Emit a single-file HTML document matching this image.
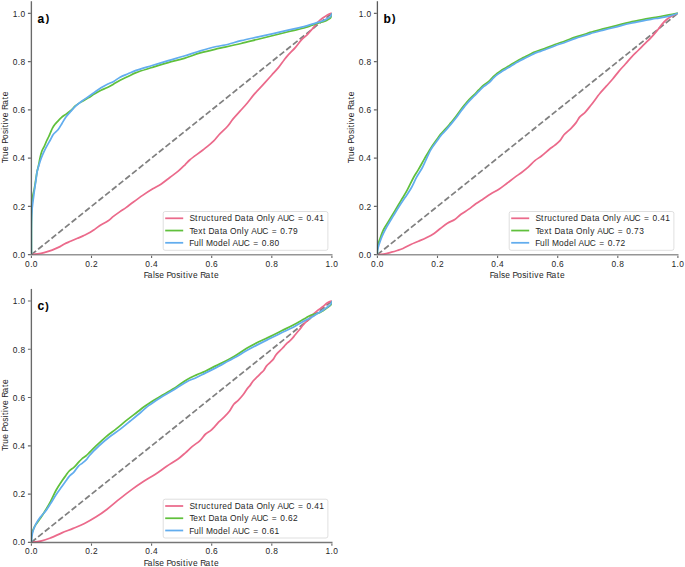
<!DOCTYPE html>
<html><head><meta charset="utf-8"><title>ROC curves</title>
<style>
html,body{margin:0;padding:0;background:#fff;overflow:hidden;}
svg{display:block;}
text{font-family:"Liberation Sans",sans-serif;fill:#262626;}
.bold{font-weight:bold;fill:#000;stroke:#000;stroke-width:0.1px;}
</style></head>
<body>
<svg width="685" height="567" viewBox="0 0 685 567">
<rect width="685" height="567" fill="#fff"/>
<clipPath id="clipa"><rect x="31.4" y="1.23" width="300.5" height="253.37"/></clipPath>
<g clip-path="url(#clipa)">
<path d="M31.4 254.6 L331.9 13.3" stroke="#808080" stroke-width="1.75" stroke-dasharray="6.0 2.6" fill="none"/>
<path d="M31.4 254.6 C31.4 254.6 35.52 254.23 37.6 253.9 C39.75 253.56 41.84 253.18 44.1 252.6 C46.64 251.95 49.47 251.09 52.1 250.1 C54.77 249.09 57.78 247.74 60 246.6 C61.71 245.72 62.79 244.83 64.4 244 C66.24 243.05 68.39 242.22 70.5 241.3 C72.75 240.32 75.25 239.28 77.5 238.3 C79.61 237.38 81.57 236.54 83.6 235.6 C85.67 234.64 87.86 233.71 89.8 232.6 C91.65 231.54 93.2 230.35 95 229.1 C96.98 227.73 99.03 226.07 101.2 224.7 C103.43 223.3 106.1 222.25 108.2 220.8 C110.13 219.46 111.53 217.86 113.4 216.4 C115.44 214.8 117.84 213.11 120 211.6 C122.03 210.18 123.94 209.07 126 207.6 C128.29 205.97 130.52 204.1 133.1 202.2 C136.11 199.98 139.68 197.36 143 195.1 C146.25 192.89 149.63 190.73 152.8 188.8 C155.71 187.03 158.52 185.74 161.3 183.9 C164.19 181.99 166.97 179.62 169.8 177.5 C172.61 175.39 175.6 173.38 178.2 171.2 C180.65 169.14 182.96 166.8 185 164.8 C186.73 163.1 187.65 161.8 189.7 160 C192.91 157.17 198.78 153.27 202.9 150 C206.66 147.02 210.67 143.99 213.5 141.2 C215.68 139.05 216.76 137.2 218.8 135 C221.32 132.28 225.12 129.06 227.6 126.2 C229.69 123.78 230.94 121.48 232.9 119.1 C235.04 116.49 237.64 113.85 240 111.2 C242.37 108.55 244.78 105.96 247.1 103.2 C249.48 100.37 251.46 97.48 254.1 94.4 C257.21 90.77 261.53 86.38 264.7 82.9 C267.31 80.03 269.45 77.64 271.8 75 C274.15 72.37 276.68 69.71 278.8 67.1 C280.74 64.71 282.5 62.07 284.1 60 C285.37 58.35 286.15 57.27 287.6 55.6 C289.7 53.19 293.26 49.9 295.7 47.1 C297.91 44.57 299.64 41.77 301.7 39.6 C303.52 37.68 305.52 36.37 307.3 34.6 C309.09 32.81 310.78 30.81 312.4 28.9 C313.97 27.05 315.46 24.9 316.9 23.3 C318.08 21.99 319.08 20.94 320.3 19.9 C321.54 18.84 322.96 17.91 324.3 17 C325.6 16.12 326.88 15.14 328.2 14.5 C329.42 13.91 331.9 13.2 331.9 13.2" stroke="#eb6a8b" stroke-width="1.75" fill="none" stroke-linejoin="round" stroke-linecap="butt"/>
<path d="M31.4 254.6 C31.4 254.6 31.29 223.18 31.5 215 C31.6 211.32 31.74 209.58 31.9 207 C32.05 204.59 32.2 202.14 32.4 200 C32.57 198.19 32.71 196.74 33 195 C33.32 193.08 33.87 191.26 34.3 189 C34.85 186.1 35.39 182.15 35.9 179 C36.35 176.18 36.68 173.57 37.2 171 C37.69 168.58 38.45 166.14 38.9 164 C39.28 162.2 39.39 160.85 39.8 159 C40.32 156.64 41.03 153.27 41.9 151 C42.59 149.18 43.52 147.96 44.3 146.3 C45.16 144.48 45.99 142.24 46.8 140.5 C47.48 139.03 48.18 137.84 48.8 136.5 C49.41 135.18 49.89 133.88 50.5 132.5 C51.15 131.02 51.81 129.31 52.6 127.9 C53.33 126.6 54.16 125.39 55 124.3 C55.77 123.31 56.49 122.58 57.4 121.6 C58.53 120.39 59.88 118.83 61.3 117.6 C62.77 116.33 64.5 115.28 66.1 114.1 C67.7 112.91 69.36 111.85 70.9 110.5 C72.53 109.07 73.83 107.17 75.6 105.7 C77.5 104.12 79.85 102.73 82 101.4 C84.08 100.11 86.2 99.05 88.3 97.8 C90.44 96.52 92.56 95.06 94.7 93.8 C96.79 92.57 98.87 91.36 101 90.3 C103.1 89.26 105.3 88.54 107.4 87.5 C109.53 86.44 111.6 85.19 113.7 84 C115.83 82.79 117.83 81.5 120.1 80.3 C122.57 78.99 125.35 77.78 128 76.5 C130.68 75.21 132.89 73.88 136.1 72.6 C140.48 70.86 146.75 69.17 152.1 67.5 C157.45 65.83 162.83 64.14 168.2 62.6 C173.53 61.07 178.88 59.9 184.2 58.3 C189.58 56.68 194.9 54.47 200.3 52.9 C205.64 51.35 211.86 49.94 216.4 48.9 C219.7 48.14 221.69 47.82 225 47.1 C229.54 46.12 235.75 44.77 241.1 43.5 C246.45 42.23 251.76 40.83 257.1 39.5 C262.46 38.16 267.84 36.84 273.2 35.5 C278.54 34.17 283.83 32.83 289.2 31.5 C294.63 30.16 301.57 28.7 305.6 27.5 C308.01 26.78 309.41 26.17 311.3 25.5 C313.18 24.84 315.02 24.12 316.9 23.5 C318.78 22.88 320.82 22.4 322.6 21.8 C324.2 21.26 325.74 20.79 327.1 20.1 C328.35 19.47 329.74 18.8 330.5 17.9 C331.13 17.15 331.37 16.13 331.6 15.3 C331.8 14.58 331.9 13.2 331.9 13.2" stroke="#60c03c" stroke-width="1.75" fill="none" stroke-linejoin="round" stroke-linecap="butt"/>
<path d="M31.4 254.6 C31.4 254.6 31.32 230.21 31.5 222 C31.61 217.02 31.73 213.46 32 210 C32.21 207.35 32.52 205.33 32.8 203 C33.08 200.67 33.41 198.27 33.7 196 C33.98 193.84 34.17 192.06 34.5 189.7 C34.93 186.64 35.64 182.41 36.1 179.2 C36.49 176.49 36.59 174.17 37.1 171.7 C37.62 169.21 38.47 166.66 39.2 164.3 C39.88 162.11 40.51 160.09 41.3 158 C42.11 155.86 43.02 153.71 44 151.6 C44.99 149.47 46.11 147.29 47.2 145.3 C48.21 143.44 49.28 141.81 50.3 140 C51.35 138.14 52.1 136.03 53.4 134.3 C54.73 132.53 56.77 131.3 58.2 129.5 C59.69 127.62 60.79 125.31 62.1 123.2 C63.42 121.07 64.69 118.72 66.1 116.8 C67.37 115.06 68.64 113.74 70.1 112.1 C71.77 110.23 73.63 108.04 75.6 106.2 C77.59 104.34 79.84 102.61 82 101 C84.08 99.45 86.2 98.16 88.3 96.7 C90.43 95.22 92.57 93.69 94.7 92.2 C96.81 90.72 98.85 89.13 101 87.8 C103.09 86.5 105.26 85.38 107.4 84.3 C109.49 83.25 111.63 82.55 113.7 81.4 C115.87 80.2 117.8 78.44 120.1 77.2 C122.54 75.89 125.35 74.93 128 73.8 C130.68 72.66 132.91 71.55 136.1 70.4 C140.5 68.81 146.76 67.13 152.1 65.5 C157.46 63.86 162.84 62.19 168.2 60.6 C173.54 59.02 178.87 57.63 184.2 56 C189.57 54.36 194.91 52.39 200.3 50.8 C205.65 49.22 211.85 47.5 216.4 46.5 C219.69 45.77 221.71 45.73 225 45 C229.55 44 235.73 42.02 241.1 40.7 C246.43 39.39 251.76 38.28 257.1 37.1 C262.46 35.92 267.85 34.8 273.2 33.6 C278.55 32.4 283.83 31.14 289.2 29.9 C294.63 28.64 301.56 27.17 305.6 26.1 C308 25.46 309.41 24.97 311.3 24.4 C313.18 23.84 315.02 23.26 316.9 22.7 C318.79 22.13 320.84 21.7 322.6 21 C324.22 20.35 325.72 19.49 327.1 18.7 C328.33 17.99 329.7 17.46 330.5 16.5 C331.26 15.6 331.9 13.2 331.9 13.2" stroke="#62adee" stroke-width="1.75" fill="none" stroke-linejoin="round" stroke-linecap="butt"/>
</g>
<g>
<path d="M31.38 1.23 V253.9" stroke="#262626" stroke-opacity="0.69" stroke-width="1.35" fill="none"/>
<path d="M30.7 254.75 H332.5" stroke="#262626" stroke-opacity="0.49" stroke-width="1.7" fill="none"/>
<path d="M27.9 254.65 H30.75 M31.4 255.7 V258 M27.9 206.39 H30.75 M91.5 255.7 V258 M27.9 158.13 H30.75 M151.6 255.7 V258 M27.9 109.87 H30.75 M211.7 255.7 V258 M27.9 61.61 H30.75 M271.8 255.7 V258 M27.9 13.35 H30.75 M331.9 255.7 V258" stroke="#262626" stroke-opacity="0.7" stroke-width="1.1" fill="none"/>
<text x="12.76 17.76 20.44" y="258" font-size="8.4">0.0</text>
<text x="25.12 30.13 32.8" y="267" font-size="8.4">0.0</text>
<text x="13.03 18.03 20.6" y="209.74" font-size="8.4">0.2</text>
<text x="85.36 90.37 92.93" y="267" font-size="8.4">0.2</text>
<text x="12.67 17.68 20.35" y="161.48" font-size="8.4">0.4</text>
<text x="145.28 150.29 152.96" y="267" font-size="8.4">0.4</text>
<text x="12.73 17.74 20.41" y="113.22" font-size="8.4">0.6</text>
<text x="205.41 210.42 213.09" y="267" font-size="8.4">0.6</text>
<text x="12.77 17.78 20.45" y="64.96" font-size="8.4">0.8</text>
<text x="265.53 270.54 273.21" y="267" font-size="8.4">0.8</text>
<text x="12.71 17.76 20.44" y="16.7" font-size="8.4">1.0</text>
<text x="325.4 330.45 333.13" y="267" font-size="8.4">1.0</text>
<text x="143.65 147.63 152.92 155.03 159.32 164.23 166.44 171.37 176.22 180.55 182.99 185.95 188.28 192.91 197.82 200.16 205.51 211.01 213.93" y="278" font-size="8.4">False Positive Rate</text>
<g transform="translate(7.5 127.92) rotate(-90)"><text x="-35.43 -31.18 -28.09 -23.03 -18.12 -15.91 -10.97 -6.12 -1.79 0.64 3.6 5.93 10.57 15.47 17.81 23.17 28.66 31.58" y="0" font-size="8.4">True Positive Rate</text></g>
<text class="bold" x="37.6" y="23" font-size="12">a</text>
<text class="bold" x="45.8" y="22" font-size="10.4">)</text>
<rect x="163.2" y="211.5" width="164.7" height="38.8" rx="2" ry="2" fill="#fff" fill-opacity="0.8" stroke="#cccccc" stroke-opacity="0.8" stroke-width="0.8"/>
<path d="M165.2 218.3 H183.2" stroke="#eb6a8b" stroke-width="1.75"/>
<text x="189.4 195.1 198.28 201.37 206.3 211.09 214.06 219.37 222.25 227.22 232.27 234.8 240.74 246.24 248.83 254.05 256.4 263.06 268.12 270.45 275.05 277.44 282.91 288.62 294.63 297.99 303.93 306.6 311.61 314.28 319.36" y="221.4" font-size="8.4">Structured Data Only AUC = 0.41</text>
<path d="M165.2 230.55 H183.2" stroke="#60c03c" stroke-width="1.75"/>
<text x="189.5 193.31 198.22 203.11 205.99 208.52 214.47 219.96 222.56 227.77 230.12 236.79 241.84 244.17 248.77 251.17 256.64 262.35 268.35 271.72 277.65 280.32 285.33 287.99 293.1" y="233.65" font-size="8.4">Text Data Only AUC = 0.79</text>
<path d="M165.2 242.8 H183.2" stroke="#62adee" stroke-width="1.75"/>
<text x="189.33 193.99 199.08 201.31 203.48 205.9 213 217.96 223.06 228.04 230.21 232.6 238.07 243.78 249.78 253.15 259.09 261.76 266.77 269.44 274.56" y="245.9" font-size="8.4">Full Model AUC = 0.80</text>
</g>
<clipPath id="clipb"><rect x="377.4" y="1.23" width="300.5" height="253.37"/></clipPath>
<g clip-path="url(#clipb)">
<path d="M377.4 254.6 L677.9 13.3" stroke="#808080" stroke-width="1.75" stroke-dasharray="6.0 2.6" fill="none"/>
<path d="M377.4 254.6 C377.4 254.6 381.43 254.45 383.6 254.1 C386.07 253.7 389 252.84 391.4 252.2 C393.48 251.64 395.27 251.11 397.2 250.5 C399.14 249.88 400.96 249.37 403 248.5 C405.44 247.46 408.19 245.73 410.8 244.5 C413.35 243.3 415.93 242.33 418.5 241.2 C421.1 240.06 423.73 238.98 426.3 237.7 C428.93 236.39 431.74 234.96 434.1 233.4 C436.27 231.97 437.92 230.4 440 228.8 C442.32 227.02 444.86 224.78 447.4 223.2 C449.8 221.71 452.52 220.99 454.8 219.5 C457.05 218.02 458.79 215.95 461 214.3 C463.31 212.57 465.96 211.13 468.4 209.4 C470.89 207.63 473.31 205.57 475.8 203.8 C478.24 202.07 480.73 200.53 483.2 198.9 C485.67 197.27 488.01 195.6 490.6 194 C493.36 192.3 496.57 190.79 499.3 189 C501.92 187.28 504.17 185.41 506.7 183.5 C509.4 181.46 512.37 179.03 515 177.1 C517.3 175.41 519.43 174.13 521.6 172.5 C523.83 170.83 526.04 169.12 528.2 167.2 C530.48 165.17 532.59 162.52 534.9 160.6 C537.04 158.83 539.24 157.74 541.5 156 C544.06 154.03 547 151.2 549.4 149.3 C551.31 147.79 552.96 146.8 554.7 145.4 C556.5 143.94 558.45 142.46 560 140.7 C561.55 138.93 562.37 136.68 564 134.8 C565.83 132.69 568.57 130.84 570.6 128.8 C572.52 126.87 574.34 124.94 575.9 122.9 C577.38 120.96 578.26 118.67 579.8 116.9 C581.33 115.14 583.35 114.09 585.1 112.3 C587.13 110.22 588.93 107.74 591.1 105 C593.8 101.58 597.23 96.67 600 93.3 C602.23 90.59 604.19 88.57 606.3 86.2 C608.42 83.81 610.61 81.48 612.7 79 C614.84 76.46 616.85 73.63 619 71.1 C621.09 68.64 623.28 66.38 625.4 64 C627.52 61.62 629.55 59.08 631.7 56.8 C633.78 54.59 635.98 52.62 638.1 50.5 C640.22 48.38 642.28 46.22 644.4 44.1 C646.52 41.98 648.72 40.01 650.8 37.8 C652.95 35.52 655.18 32.95 657.1 30.6 C658.85 28.46 660.23 26.21 661.9 24.3 C663.44 22.53 665.04 20.87 666.7 19.5 C668.22 18.24 669.66 17.3 671.4 16.3 C673.35 15.18 677.9 13.2 677.9 13.2" stroke="#eb6a8b" stroke-width="1.75" fill="none" stroke-linejoin="round" stroke-linecap="butt"/>
<path d="M377.4 254.6 C377.4 254.6 377.12 249.52 377.5 247 C377.89 244.39 378.87 241.92 379.8 239.2 C380.85 236.12 382.03 232.67 383.6 229.5 C385.24 226.19 387.55 223.04 389.5 219.8 C391.45 216.57 393.37 213.33 395.3 210.1 C397.23 206.87 399.17 203.63 401.1 200.4 C403.03 197.17 404.95 194.24 406.9 190.7 C409.15 186.61 411.55 181.05 413.7 177.2 C415.37 174.2 416.85 172.21 418.5 169.4 C420.4 166.18 422.39 162.39 424.4 158.9 C426.42 155.39 428.46 151.71 430.6 148.4 C432.61 145.29 435 142.15 436.8 139.6 C438.19 137.64 439.09 136.13 440.5 134.4 C442.05 132.49 444.09 130.63 445.8 128.7 C447.49 126.79 449.08 124.84 450.7 122.9 C452.31 120.97 453.93 119.14 455.5 117.1 C457.16 114.95 458.85 112.37 460.4 110.3 C461.73 108.52 462.83 107.09 464.2 105.4 C465.71 103.53 467.42 101.41 469.1 99.6 C470.69 97.88 472.38 96.42 474 94.8 C475.62 93.18 477.2 91.52 478.8 89.9 C480.4 88.29 481.93 86.5 483.6 85.1 C485.17 83.79 486.94 83.03 488.5 81.7 C490.18 80.26 491.74 78.19 493.3 76.7 C494.66 75.4 495.97 74.24 497.3 73.2 C498.51 72.26 499.68 71.49 500.9 70.7 C502.11 69.92 503.38 69.24 504.6 68.5 C505.81 67.77 506.99 67.03 508.2 66.3 C509.42 65.56 510.68 64.84 511.9 64.1 C513.11 63.37 514.29 62.63 515.5 61.9 C516.72 61.16 517.96 60.38 519.2 59.7 C520.4 59.05 521.59 58.5 522.8 57.9 C524.02 57.3 525.28 56.7 526.5 56.1 C527.71 55.5 528.89 54.91 530.1 54.3 C531.33 53.68 532.56 52.96 533.8 52.4 C534.99 51.86 536.29 51.39 537.4 51 C538.33 50.68 539.01 50.52 540 50.2 C541.32 49.77 542.77 49.28 544.6 48.6 C547.36 47.57 551.46 45.77 554.9 44.5 C558.29 43.24 561.71 42.21 565.1 41 C568.51 39.78 571.88 38.37 575.3 37.2 C578.68 36.04 582.79 34.91 585.5 34 C587.31 33.39 588.09 32.99 590 32.4 C593.21 31.4 598.72 30.03 603.1 28.9 C607.49 27.77 611.91 26.7 616.3 25.6 C620.68 24.5 625.01 23.3 629.4 22.3 C633.78 21.3 638.2 20.44 642.6 19.6 C646.97 18.77 651.33 18.08 655.7 17.3 C660.07 16.52 664.83 15.63 668.8 14.9 C672.11 14.29 677.9 13.2 677.9 13.2" stroke="#60c03c" stroke-width="1.75" fill="none" stroke-linejoin="round" stroke-linecap="butt"/>
<path d="M377.4 254.6 C377.4 254.6 377.24 252.5 377.5 250.9 C378.02 247.77 379.98 241.6 381.7 237.3 C383.34 233.18 385.49 229.28 387.5 225.6 C389.37 222.18 391.35 219.13 393.3 215.9 C395.25 212.66 397.21 209.33 399.2 206.2 C401.11 203.2 403.07 200.4 405 197.5 C406.93 194.6 408.96 191.97 410.8 188.8 C412.85 185.27 414.6 180.86 416.6 177.2 C418.47 173.79 420.38 171.28 422.4 167.5 C425.08 162.49 428.08 154.42 430.9 149.6 C432.98 146.05 435.3 143.35 437.1 140.8 C438.49 138.84 439.39 137.33 440.8 135.6 C442.35 133.69 444.39 131.83 446.1 129.9 C447.79 127.99 449.38 126.04 451 124.1 C452.61 122.17 454.23 120.34 455.8 118.3 C457.46 116.15 459.15 113.57 460.7 111.5 C462.03 109.72 463.13 108.29 464.5 106.6 C466.01 104.73 467.72 102.61 469.4 100.8 C470.99 99.08 472.68 97.62 474.3 96 C475.92 94.38 477.5 92.72 479.1 91.1 C480.7 89.49 482.23 87.7 483.9 86.3 C485.47 84.99 487.24 84.23 488.8 82.9 C490.48 81.46 492.04 79.39 493.6 77.9 C494.96 76.6 496.27 75.44 497.6 74.4 C498.81 73.46 499.98 72.69 501.2 71.9 C502.41 71.12 503.68 70.44 504.9 69.7 C506.11 68.97 507.29 68.23 508.5 67.5 C509.72 66.76 510.98 66.04 512.2 65.3 C513.41 64.57 514.59 63.83 515.8 63.1 C517.02 62.36 518.26 61.58 519.5 60.9 C520.7 60.25 521.89 59.7 523.1 59.1 C524.32 58.5 525.58 57.9 526.8 57.3 C528.01 56.7 529.19 56.11 530.4 55.5 C531.63 54.88 532.86 54.16 534.1 53.6 C535.29 53.06 536.59 52.59 537.7 52.2 C538.63 51.88 539.31 51.72 540.3 51.4 C541.62 50.97 543.07 50.48 544.9 49.8 C547.66 48.77 551.76 46.97 555.2 45.7 C558.59 44.44 562.01 43.41 565.4 42.2 C568.81 40.98 572.18 39.57 575.6 38.4 C578.98 37.24 583.09 36.11 585.8 35.2 C587.61 34.59 588.39 34.19 590.3 33.6 C593.51 32.6 599.02 31.23 603.4 30.1 C607.79 28.97 612.21 27.9 616.6 26.8 C620.98 25.7 625.31 24.5 629.7 23.5 C634.08 22.5 638.5 21.64 642.9 20.8 C647.27 19.97 651.63 19.28 656 18.5 C660.37 17.72 665.2 17.1 669.1 16.1 C672.36 15.27 677.9 13.2 677.9 13.2" stroke="#62adee" stroke-width="1.75" fill="none" stroke-linejoin="round" stroke-linecap="butt"/>
</g>
<g>
<path d="M377.4 1.23 V253.9" stroke="#262626" stroke-opacity="0.76" stroke-width="1.3" fill="none"/>
<path d="M376.7 254.75 H678.5" stroke="#262626" stroke-opacity="0.49" stroke-width="1.7" fill="none"/>
<path d="M373.9 254.65 H376.75 M377.4 255.7 V258 M373.9 206.39 H376.75 M437.5 255.7 V258 M373.9 158.13 H376.75 M497.6 255.7 V258 M373.9 109.87 H376.75 M557.7 255.7 V258 M373.9 61.61 H376.75 M617.8 255.7 V258 M373.9 13.35 H376.75 M677.9 255.7 V258" stroke="#262626" stroke-opacity="0.7" stroke-width="1.1" fill="none"/>
<text x="358.76 363.76 366.44" y="258" font-size="8.4">0.0</text>
<text x="371.12 376.13 378.8" y="267" font-size="8.4">0.0</text>
<text x="359.03 364.03 366.6" y="209.74" font-size="8.4">0.2</text>
<text x="431.36 436.37 438.93" y="267" font-size="8.4">0.2</text>
<text x="358.67 363.68 366.35" y="161.48" font-size="8.4">0.4</text>
<text x="491.28 496.29 498.96" y="267" font-size="8.4">0.4</text>
<text x="358.73 363.74 366.41" y="113.22" font-size="8.4">0.6</text>
<text x="551.41 556.42 559.09" y="267" font-size="8.4">0.6</text>
<text x="358.77 363.78 366.45" y="64.96" font-size="8.4">0.8</text>
<text x="611.53 616.54 619.21" y="267" font-size="8.4">0.8</text>
<text x="358.71 363.76 366.44" y="16.7" font-size="8.4">1.0</text>
<text x="671.4 676.45 679.13" y="267" font-size="8.4">1.0</text>
<text x="489.65 493.63 498.92 501.03 505.32 510.23 512.44 517.37 522.22 526.55 528.99 531.95 534.28 538.91 543.82 546.16 551.51 557.01 559.93" y="278" font-size="8.4">False Positive Rate</text>
<g transform="translate(353.5 127.92) rotate(-90)"><text x="-35.43 -31.18 -28.09 -23.03 -18.12 -15.91 -10.97 -6.12 -1.79 0.64 3.6 5.93 10.57 15.47 17.81 23.17 28.66 31.58" y="0" font-size="8.4">True Positive Rate</text></g>
<text class="bold" x="383.6" y="23" font-size="12">b</text>
<text class="bold" x="392.1" y="22" font-size="10.4">)</text>
<rect x="509.2" y="211.5" width="164.7" height="38.8" rx="2" ry="2" fill="#fff" fill-opacity="0.8" stroke="#cccccc" stroke-opacity="0.8" stroke-width="0.8"/>
<path d="M511.2 218.3 H529.2" stroke="#eb6a8b" stroke-width="1.75"/>
<text x="535.4 541.1 544.28 547.37 552.3 557.09 560.06 565.37 568.25 573.22 578.27 580.8 586.74 592.24 594.83 600.05 602.4 609.06 614.12 616.45 621.05 623.44 628.91 634.62 640.63 643.99 649.93 652.6 657.61 660.28 665.36" y="221.4" font-size="8.4">Structured Data Only AUC = 0.41</text>
<path d="M511.2 230.55 H529.2" stroke="#60c03c" stroke-width="1.75"/>
<text x="535.5 539.31 544.22 549.11 551.99 554.52 560.47 565.96 568.56 573.77 576.12 582.79 587.84 590.17 594.77 597.17 602.64 608.35 614.35 617.72 623.65 626.32 631.33 633.99 639.14" y="233.65" font-size="8.4">Text Data Only AUC = 0.73</text>
<path d="M511.2 242.8 H529.2" stroke="#62adee" stroke-width="1.75"/>
<text x="535.33 539.99 545.08 547.31 549.48 551.9 559 563.96 569.06 574.04 576.21 578.6 584.07 589.78 595.78 599.15 605.09 607.76 612.77 615.42 620.45" y="245.9" font-size="8.4">Full Model AUC = 0.72</text>
</g>
<clipPath id="clipc"><rect x="31.4" y="288.93" width="300.5" height="253.37"/></clipPath>
<g clip-path="url(#clipc)">
<path d="M31.4 542.3 L331.9 301" stroke="#808080" stroke-width="1.75" stroke-dasharray="6.0 2.6" fill="none"/>
<path d="M31.4 542.3 C31.4 542.3 38.34 541.66 41.6 540.9 C44.73 540.17 47.46 539.11 50.6 537.9 C54.18 536.51 58.12 534.49 61.9 532.9 C65.65 531.32 69.45 529.96 73.2 528.4 C76.98 526.83 80.78 525.35 84.5 523.5 C88.32 521.6 92.09 519.44 95.8 517.1 C99.62 514.69 103.27 512.11 107.1 509.2 C111.32 506 115.78 501.96 120 498.6 C123.97 495.44 127.76 492.47 131.7 489.6 C135.56 486.78 139.47 484.04 143.4 481.5 C147.24 479.02 151.17 477 155 474.5 C158.94 471.94 162.78 468.95 166.7 466.3 C170.58 463.68 175.06 461.18 178.4 458.7 C181.1 456.7 183.09 454.83 185.4 452.8 C187.75 450.73 189.97 448.43 192.4 446.4 C194.84 444.36 197.76 442.73 200 440.6 C202.13 438.58 203.64 435.79 205.6 434 C207.3 432.46 209.27 431.67 210.9 430.3 C212.5 428.96 213.94 427.35 215.3 425.9 C216.56 424.56 217.42 423.31 218.8 421.9 C220.53 420.12 223.15 418.07 225 416.2 C226.64 414.54 228.01 413.15 229.4 411.3 C230.96 409.23 232.19 406.22 233.8 404.3 C235.16 402.67 236.74 401.79 238.2 400.3 C239.84 398.63 241.58 396.65 243.1 394.7 C244.61 392.75 246 390.28 247.3 388.6 C248.29 387.33 249.2 386.57 250.1 385.4 C251.08 384.12 251.79 382.56 252.9 381.2 C254.12 379.71 255.78 378.32 257.2 376.9 C258.61 375.49 260.18 373.92 261.4 372.7 C262.34 371.76 263.12 371.19 263.9 370.2 C264.81 369.05 265.38 367.38 266.4 366.1 C267.49 364.74 269.08 363.52 270.3 362.3 C271.4 361.2 272.5 360.27 273.4 359.1 C274.3 357.93 274.84 356.48 275.7 355.3 C276.54 354.15 277.51 353.14 278.5 352.1 C279.51 351.04 280.71 350 281.7 349 C282.59 348.1 283.37 347.32 284.2 346.4 C285.07 345.43 285.9 344.18 286.8 343.3 C287.6 342.51 288.43 342.06 289.3 341.3 C290.32 340.4 291.53 339.28 292.5 338.2 C293.42 337.17 294.05 336.18 295 335 C296.21 333.51 297.79 331.72 299.2 330 C300.66 328.22 302.03 326.26 303.6 324.5 C305.19 322.72 307.09 321.13 308.7 319.4 C310.25 317.73 311.56 315.82 313.1 314.3 C314.54 312.88 316.03 311.74 317.6 310.5 C319.23 309.21 321.08 307.98 322.7 306.7 C324.24 305.48 325.77 303.89 327.1 303 C328.07 302.35 328.94 301.96 329.8 301.6 C330.53 301.29 331.9 300.9 331.9 300.9" stroke="#eb6a8b" stroke-width="1.75" fill="none" stroke-linejoin="round" stroke-linecap="butt"/>
<path d="M31.4 542.3 C31.4 542.3 31.04 537.67 31.5 535.2 C32.03 532.33 33.32 529.01 34.8 526.2 C36.29 523.38 38.56 521.05 40.4 518.3 C42.33 515.4 44.34 512.14 46.1 509.2 C47.72 506.49 49.06 504.19 50.6 501.3 C52.41 497.89 54.23 493.5 56.2 490 C58.01 486.78 60.12 483.64 61.9 481 C63.35 478.86 64.71 477.06 66 475.3 C67.13 473.76 67.93 472.3 69.2 471 C70.54 469.62 72.38 468.71 73.9 467.3 C75.55 465.77 77.19 463.69 78.7 462.1 C80 460.72 81.11 459.4 82.4 458.3 C83.59 457.29 84.99 456.61 86.1 455.7 C87.11 454.87 87.71 454.17 88.8 453.1 C90.5 451.43 92.84 448.96 95.3 446.6 C98.38 443.64 102.3 439.85 105.9 436.8 C109.37 433.86 112.99 431.4 116.5 428.6 C120.05 425.77 123.55 422.72 127.1 419.9 C130.59 417.12 134.48 414.22 137.6 411.8 C140.11 409.85 142.22 408.09 144.4 406.5 C146.33 405.09 147.72 404.16 150 402.7 C153.43 400.5 158.72 397.43 163.1 394.8 C167.49 392.16 172.19 389.54 176.3 386.9 C180.04 384.5 183.35 381.73 186.8 379.7 C189.9 377.87 192.91 376.53 196 375.1 C199.04 373.7 202.06 372.66 205.2 371.2 C208.61 369.62 212.2 367.65 215.7 365.9 C219.2 364.15 222.93 362.4 226.2 360.7 C229.12 359.18 231.42 357.97 234.4 356.2 C238.12 353.99 242.62 350.72 246.7 348.3 C250.58 346 254.39 343.96 258.3 342 C262.16 340.06 266.12 338.46 270 336.6 C273.89 334.73 277.72 332.73 281.6 330.8 C285.49 328.86 289.81 326.83 293.3 325 C296.18 323.49 298.78 322 301.1 320.7 C302.98 319.65 304.51 318.76 306.2 317.8 C307.87 316.86 309.34 315.73 311.2 315 C313.29 314.18 316.17 314.08 318.2 313.3 C319.91 312.65 321.24 311.8 322.7 310.9 C324.2 309.97 325.75 308.76 327.1 307.8 C328.25 306.98 329.52 306.32 330.3 305.5 C330.91 304.86 331.33 304.25 331.6 303.5 C331.88 302.72 331.9 300.9 331.9 300.9" stroke="#60c03c" stroke-width="1.75" fill="none" stroke-linejoin="round" stroke-linecap="butt"/>
<path d="M31.4 542.3 C31.4 542.3 31.76 536.04 32.5 533 C33.25 529.9 34.5 526.64 35.9 523.9 C37.18 521.39 38.74 519.31 40.4 517.1 C42.13 514.81 44.37 512.69 46.1 510.4 C47.76 508.19 49.04 506.05 50.6 503.6 C52.39 500.8 54.27 497.39 56.2 494.5 C58.04 491.74 60.16 489.03 61.9 486.6 C63.38 484.52 64.72 482.61 66 480.8 C67.13 479.2 67.94 477.71 69.2 476.3 C70.55 474.8 72.4 473.72 73.9 472.1 C75.58 470.28 77.09 467.38 78.7 465.8 C79.93 464.6 81.19 464.06 82.4 463.1 C83.65 462.1 84.97 461.1 86.1 459.9 C87.28 458.65 87.88 457.34 89.3 455.7 C91.57 453.08 95.47 449.1 98.8 446 C102.17 442.86 105.81 439.8 109.4 437 C112.88 434.28 116.51 432.07 120 429.4 C123.57 426.67 127.07 423.69 130.6 420.8 C134.14 417.89 138.21 414.55 141.2 412 C143.44 410.09 145.36 408.22 147 406.9 C148.14 405.98 148.63 405.65 150 404.7 C152.81 402.75 158.69 398.85 163.1 396.1 C167.46 393.38 172.17 390.82 176.3 388.3 C180.02 386.03 183.35 383.52 186.8 381.7 C189.91 380.06 192.95 379.12 196 377.7 C199.09 376.26 202.03 374.68 205.2 373.1 C208.58 371.42 212.03 369.82 215.7 367.9 C219.85 365.73 225.34 362.55 228.8 360.7 C231.05 359.5 232.19 359.02 234.4 357.8 C237.72 355.97 242.64 352.87 246.7 350.6 C250.6 348.42 254.41 346.42 258.3 344.4 C262.18 342.39 266.11 340.45 270 338.5 C273.87 336.56 277.71 334.57 281.6 332.7 C285.48 330.84 289.7 329.2 293.3 327.3 C296.55 325.58 299.52 323.4 302.3 321.9 C304.59 320.66 306.7 319.85 308.7 318.8 C310.51 317.85 312.18 316.89 313.8 315.9 C315.34 314.96 316.71 313.9 318.2 313 C319.67 312.11 321.24 311.43 322.7 310.5 C324.2 309.54 325.76 308.31 327.1 307.3 C328.26 306.43 329.53 305.74 330.3 304.8 C330.95 304.01 331.34 302.93 331.6 302.2 C331.78 301.7 331.9 300.9 331.9 300.9" stroke="#62adee" stroke-width="1.75" fill="none" stroke-linejoin="round" stroke-linecap="butt"/>
</g>
<g>
<path d="M31.38 288.93 V541.65" stroke="#262626" stroke-opacity="0.69" stroke-width="1.35" fill="none"/>
<path d="M30.7 542.4 H332.5" stroke="#262626" stroke-opacity="0.63" stroke-width="1.5" fill="none"/>
<path d="M27.9 542.35 H30.75 M31.4 543.4 V545.7 M27.9 494.09 H30.75 M91.5 543.4 V545.7 M27.9 445.83 H30.75 M151.6 543.4 V545.7 M27.9 397.57 H30.75 M211.7 543.4 V545.7 M27.9 349.31 H30.75 M271.8 543.4 V545.7 M27.9 301.05 H30.75 M331.9 543.4 V545.7" stroke="#262626" stroke-opacity="0.7" stroke-width="1.1" fill="none"/>
<text x="12.76 17.76 20.44" y="545" font-size="8.4">0.0</text>
<text x="25.12 30.13 32.8" y="554" font-size="8.4">0.0</text>
<text x="13.03 18.03 20.6" y="497.44" font-size="8.4">0.2</text>
<text x="85.36 90.37 92.93" y="554" font-size="8.4">0.2</text>
<text x="12.67 17.68 20.35" y="449.18" font-size="8.4">0.4</text>
<text x="145.28 150.29 152.96" y="554" font-size="8.4">0.4</text>
<text x="12.73 17.74 20.41" y="400.92" font-size="8.4">0.6</text>
<text x="205.41 210.42 213.09" y="554" font-size="8.4">0.6</text>
<text x="12.77 17.78 20.45" y="352.66" font-size="8.4">0.8</text>
<text x="265.53 270.54 273.21" y="554" font-size="8.4">0.8</text>
<text x="12.71 17.76 20.44" y="304.4" font-size="8.4">1.0</text>
<text x="325.4 330.45 333.13" y="554" font-size="8.4">1.0</text>
<text x="143.65 147.63 152.92 155.03 159.32 164.23 166.44 171.37 176.22 180.55 182.99 185.95 188.28 192.91 197.82 200.16 205.51 211.01 213.93" y="566" font-size="8.4">False Positive Rate</text>
<g transform="translate(7.5 415.62) rotate(-90)"><text x="-35.43 -31.18 -28.09 -23.03 -18.12 -15.91 -10.97 -6.12 -1.79 0.64 3.6 5.93 10.57 15.47 17.81 23.17 28.66 31.58" y="0" font-size="8.4">True Positive Rate</text></g>
<text class="bold" x="37.6" y="310" font-size="12">c</text>
<text class="bold" x="45.3" y="309.6" font-size="10.4">)</text>
<rect x="163.2" y="499.2" width="164.7" height="38.8" rx="2" ry="2" fill="#fff" fill-opacity="0.8" stroke="#cccccc" stroke-opacity="0.8" stroke-width="0.8"/>
<path d="M165.2 506 H183.2" stroke="#eb6a8b" stroke-width="1.75"/>
<text x="189.4 195.1 198.28 201.37 206.3 211.09 214.06 219.37 222.25 227.22 232.27 234.8 240.74 246.24 248.83 254.05 256.4 263.06 268.12 270.45 275.05 277.44 282.91 288.62 294.63 297.99 303.93 306.6 311.61 314.28 319.36" y="509.1" font-size="8.4">Structured Data Only AUC = 0.41</text>
<path d="M165.2 518.25 H183.2" stroke="#60c03c" stroke-width="1.75"/>
<text x="189.5 193.31 198.22 203.11 205.99 208.52 214.47 219.96 222.56 227.77 230.12 236.79 241.84 244.17 248.77 251.17 256.64 262.35 268.35 271.72 277.65 280.32 285.33 288 293.02" y="521.35" font-size="8.4">Text Data Only AUC = 0.62</text>
<path d="M165.2 530.5 H183.2" stroke="#62adee" stroke-width="1.75"/>
<text x="189.33 193.99 199.08 201.31 203.48 205.9 213 217.96 223.06 228.04 230.21 232.6 238.07 243.78 249.78 253.15 259.09 261.76 266.77 269.44 274.52" y="533.6" font-size="8.4">Full Model AUC = 0.61</text>
</g>
</svg>
</body></html>
